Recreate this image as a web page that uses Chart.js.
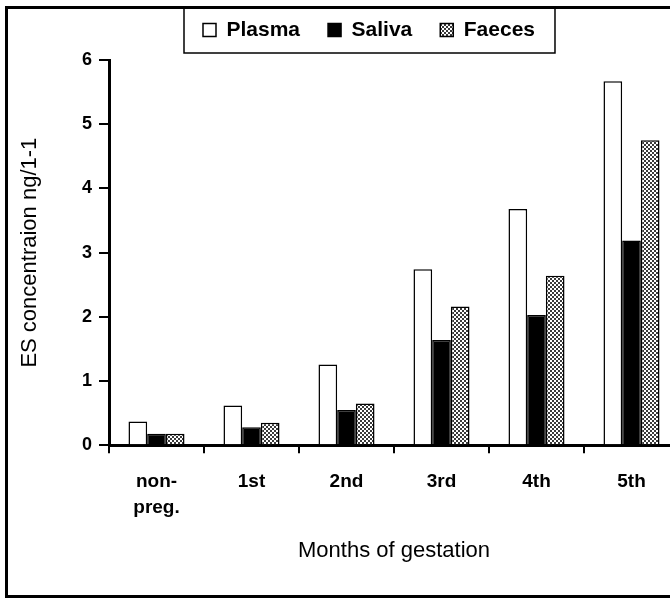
<!DOCTYPE html>
<html lang="en">
<head>
    <meta charset="UTF-8">
    <title>ES concentration during gestation</title>
    <script src="https://cdn.jsdelivr.net/npm/chart.js"></script>
    <style>
        body { margin: 0; overflow: hidden; background: #fff; }
        #wrap { width: 670px; height: 600px; overflow: hidden; }
    </style>
</head>
<body>
    <div id="wrap">
        <canvas id="myChart" width="740" height="600"></canvas>
    </div>

    <script>
        // values
        const months = [['non-', 'preg.'], '1st', '2nd', '3rd', '4th', '5th'];
        const plasma = [0.37, 0.62, 1.26, 2.74, 3.68, 5.67];
        const saliva = [0.18, 0.28, 0.55, 1.64, 2.03, 3.19];
        const faeces = [0.18, 0.35, 0.65, 2.16, 2.64, 4.75];
        const yTicks = [0, 1, 2, 3, 4, 5, 6];

        const FONT = 'Arial, "Liberation Sans", sans-serif';

        // dotted fill for the faeces bars
        function makePattern() {
            const c = document.createElement('canvas');
            c.width = 4; c.height = 4;
            const g = c.getContext('2d');
            g.fillStyle = '#fff';
            g.fillRect(0, 0, 4, 4);
            g.fillStyle = '#3a3a3a';
            g.fillRect(0, 0, 2, 2);
            g.fillRect(2, 2, 2, 2);
            return g.createPattern(c, 'repeat');
        }

        const framePlugin = {
            id: 'frame',
            afterLayout(chart) {
                // put the legend where the original had it
                const lg = chart.legend;
                lg.left = 175;
                lg.right = chart.width;
                lg.top = -8.5;
                lg.bottom = 50;
            },
            beforeDraw(chart) {
                const ctx = chart.ctx;
                ctx.save();
                ctx.strokeStyle = '#000';
                ctx.lineWidth = 3;
                ctx.strokeRect(6.5, 7.5, chart.width + 20, 589);
                ctx.restore();
            },
            afterDraw(chart) {
                const boxes = chart.legend.legendHitBoxes;
                if (!boxes || !boxes.length) return;
                const first = boxes[0];
                const last = boxes[boxes.length - 1];
                const ctx = chart.ctx;
                ctx.save();
                ctx.strokeStyle = '#000';
                ctx.lineWidth = 1.5;
                const x0 = first.left - 19;
                const x1 = last.left + last.width + 20;
                ctx.strokeRect(x0, 8, x1 - x0, 45);
                ctx.restore();
            }
        };

        const ctx = document.getElementById('myChart').getContext('2d');
        const myChart = new Chart(ctx, {
            type: 'bar',
            data: {
                labels: months,
                datasets: [{
                    label: 'Plasma',
                    data: plasma,
                    backgroundColor: '#ffffff',
                    borderColor: '#000000',
                    borderWidth: 1.5
                }, {
                    label: 'Saliva',
                    data: saliva,
                    backgroundColor: '#000000',
                    borderColor: '#000000',
                    borderWidth: 1.5
                }, {
                    label: 'Faeces',
                    data: faeces,
                    backgroundColor: makePattern(),
                    borderColor: '#000000',
                    borderWidth: 1.5
                }]
            },
            options: {
                responsive: false,
                animation: false,
                devicePixelRatio: 1,
                categoryPercentage: 0.59,
                barPercentage: 1.0,
                layout: { padding: { left: 0, right: 61, top: 1, bottom: 0 } },
                plugins: {
                    legend: {
                        position: 'top',
                        align: 'start',
                        labels: {
                            boxWidth: 13,
                            boxHeight: 13,
                            padding: 28,
                            color: '#000',
                            font: { family: FONT, size: 21, weight: 'bold' }
                        }
                    },
                    tooltip: { enabled: false }
                },
                scales: {
                    x: {
                        offset: true,
                        grid: {
                            offset: true,
                            drawOnChartArea: false,
                            drawTicks: true,
                            tickLength: 8,
                            color: '#000',
                            lineWidth: 2
                        },
                        border: { display: true, color: '#000', width: 3 },
                        ticks: {
                            color: '#000',
                            padding: 16,
                            maxRotation: 0,
                            font: { family: FONT, size: 19, weight: 'bold', lineHeight: 1.35 }
                        },
                        title: {
                            display: true,
                            text: 'Months of gestation',
                            color: '#000',
                            padding: { top: 1, bottom: 36 },
                            font: { family: FONT, size: 22 }
                        }
                    },
                    y: {
                        min: 0,
                        max: 6,
                        afterBuildTicks(scale) {
                            scale.ticks = yTicks.map(v => ({ value: v }));
                        },
                        afterFit(scale) {
                            scale.width = 109;
                        },
                        grid: {
                            drawOnChartArea: false,
                            drawTicks: true,
                            tickLength: 10,
                            color: '#000',
                            lineWidth: 2
                        },
                        border: { display: true, color: '#000', width: 3 },
                        ticks: {
                            color: '#000',
                            padding: 7,
                            font: { family: FONT, size: 18, weight: 'bold' }
                        },
                        title: {
                            display: true,
                            text: 'ES concentraion ng/1-1',
                            color: '#000',
                            padding: { top: 17, bottom: 0 },
                            font: { family: FONT, size: 22 }
                        }
                    }
                }
            },
            plugins: [framePlugin]
        });
    </script>
</body>
</html>
